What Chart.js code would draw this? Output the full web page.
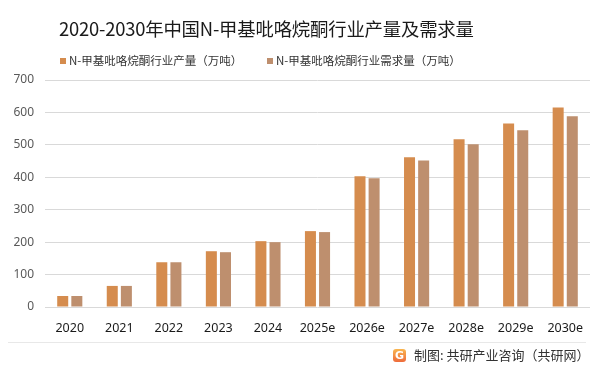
<!DOCTYPE html>
<html>
<head>
<meta charset="utf-8">
<script src="https://cdn.jsdelivr.net/npm/chart.js@4"></script>
<style>
    html, body { margin: 0; padding: 0; background: #fff; }
    #wrap { position: relative; width: 601px; height: 374px; overflow: hidden; font-family: "Noto Sans CJK SC", "Noto Sans", sans-serif; }
    #chart { position: absolute; left: 0; top: 0; }
    .title { position: absolute; left: 59px; top: 15px; font-size: 18.4px; color: #1a1a1a; white-space: nowrap; letter-spacing: -0.2px; }
    .legend { position: absolute; top: 52px; font-size: 11.5px; color: #333; white-space: nowrap; }
    .legend i { display: inline-block; width: 6px; height: 6px; margin-right: 3px; vertical-align: 1px; }
    .sep { position: absolute; left: 8px; top: 342px; width: 578px; height: 1px; background: #e8e8e8; }
    .footer { position: absolute; left: 414px; top: 345px; font-size: 13px; color: #333; white-space: nowrap; }
    .logo { position: absolute; left: 393px; top: 349px; width: 13px; height: 13px; border-radius: 3px;
            background: linear-gradient(180deg, #f9b650, #ee6b3b); color: #fff;
            font: 900 11px/13px "DejaVu Sans", sans-serif; text-align: center; }
</style>
</head>
<body>
<div id="wrap">
    <canvas id="chart" width="601" height="374"></canvas>
    <div class="title">2020-2030年中国N-甲基吡咯烷酮行业产量及需求量</div>
    <div class="legend" style="left:60px"><i style="background:#d58c4e"></i>N-甲基吡咯烷酮行业产量（万吨）</div>
    <div class="legend" style="left:267px"><i style="background:#be8f6e"></i>N-甲基吡咯烷酮行业需求量（万吨）</div>
    <div class="sep"></div>
    <span class="logo">G</span>
    <div class="footer">制图: 共研产业咨询（共研网）</div>
</div>
<script>
// Data
const years = ['2020', '2021', '2022', '2023', '2024', '2025e', '2026e', '2027e', '2028e', '2029e', '2030e'];
const output = [34, 65, 138, 172, 203, 234, 403, 462, 517, 566, 615];
const demand = [34, 65, 138, 169, 200, 231, 397, 452, 502, 545, 588];
const yTicks = [0, 100, 200, 300, 400, 500, 600, 700];

const ctx = document.getElementById('chart').getContext('2d');
new Chart(ctx, {
    type: 'bar',
    data: {
        labels: years,
        datasets: [{
            label: 'N-甲基吡咯烷酮行业产量（万吨）',
            data: output,
            backgroundColor: '#d58c4e',
        }, {
            label: 'N-甲基吡咯烷酮行业需求量（万吨）',
            data: demand,
            backgroundColor: '#be8f6e',
        }],
    },
    options: {
        responsive: false,
        animation: false,
        layout: {
            padding: { top: 80, right: 11, bottom: 37, left: 0 },
        },
        datasets: {
            bar: { categoryPercentage: 0.57, barPercentage: 0.78 },
        },
        plugins: {
            legend: { display: false },
            tooltip: { enabled: false },
        },
        scales: {
            x: {
                grid: { display: false },
                border: { display: false },
                ticks: { color: '#1a1a1a', font: { family: 'Noto Sans', size: 12.5 }, padding: 6 },
                afterFit: (scale) => { scale.height = 30; },
            },
            y: {
                min: 0,
                max: 700,
                afterBuildTicks: (scale) => { scale.ticks = yTicks.map(v => ({ value: v })); },
                grid: { color: '#d9d9d9', lineWidth: 1, drawTicks: false },
                border: { display: false },
                ticks: { color: '#595959', font: { family: 'Noto Sans', size: 12 }, padding: 11 },
                afterFit: (scale) => { scale.width = 45; },
            },
        },
    },
});
</script>
</body>
</html>
